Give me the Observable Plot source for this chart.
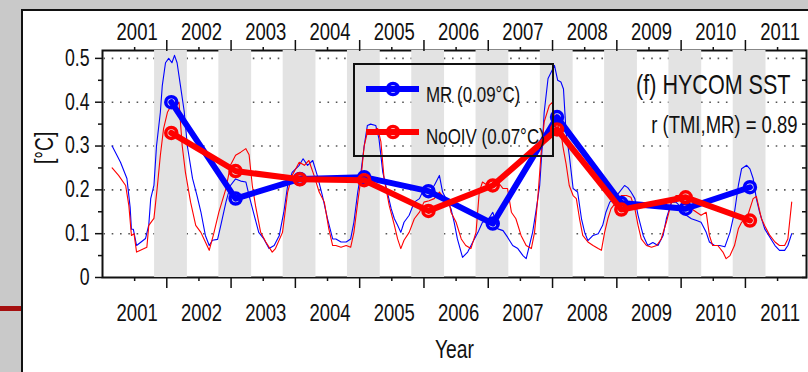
<!DOCTYPE html>
<html>
<head>
<meta charset="utf-8">
<script src="https://cdn.jsdelivr.net/npm/d3@7"></script>
<script src="https://cdn.jsdelivr.net/npm/@observablehq/plot@0.6"></script>
<style>
  html, body { margin: 0; padding: 0; }
  body { width: 808px; height: 372px; overflow: hidden; position: relative; background: #c9c9c9; }
  #panel { position: absolute; left: 21px; top: 9px; width: 787px; height: 363px; box-sizing: border-box; background: #fff; border-left: 2px solid #111; border-top: 2px solid #111; }
  #redbar { position: absolute; left: 0; top: 306px; width: 21px; height: 5px; background: #a50f0f; }
  #chart { position: absolute; left: 0; top: 0; }
</style>
</head>
<body>
<div id="panel"></div>
<div id="redbar"></div>
<div id="chart"></div>
<script>
// ---------- data ----------
const labelYears = [2001, 2002, 2003, 2004, 2005, 2006, 2007, 2008, 2009, 2010, 2011];
const midYearTicks = [2001.5, 2002.5, 2003.5, 2004.5, 2005.5, 2006.5, 2007.5, 2008.5, 2009.5, 2010.5];
const yMajor = [0, 0.1, 0.2, 0.3, 0.4, 0.5];
const yMinor = [0.05, 0.15, 0.25, 0.35, 0.45];

// shaded season of each year (fraction of year) and its centre
const seasonYears = [2001, 2002, 2003, 2004, 2005, 2006, 2007, 2008, 2009, 2010];
const seasonStart = 0.31;
const seasonEnd = 0.82;
const seasonCenter = 0.57;

// seasonal means (thick lines with circles)
const mrSeason = [0.40, 0.18, 0.225, 0.229, 0.197, 0.123, 0.366, 0.17, 0.157, 0.206];
const noivSeason = [0.33, 0.243, 0.224, 0.222, 0.152, 0.21, 0.338, 0.155, 0.183, 0.13];

// thin running series [year, value]
const mrSeries = [
  [2000.65,0.30],[2000.78,0.263],[2000.88,0.226],[2000.93,0.16],[2000.95,0.11],[2000.98,0.11],[2001.03,0.073],[2001.10,0.081],
  [2001.17,0.089],[2001.22,0.12],[2001.25,0.18],[2001.30,0.21],[2001.34,0.30],[2001.40,0.377],[2001.43,0.438],[2001.48,0.49],
  [2001.53,0.50],[2001.58,0.49],[2001.62,0.507],[2001.66,0.49],[2001.71,0.44],[2001.77,0.38],[2001.82,0.30],[2001.90,0.226],
  [2001.97,0.187],[2002.03,0.15],[2002.10,0.096],[2002.16,0.073],[2002.21,0.085],[2002.29,0.087],[2002.34,0.119],[2002.42,0.172],
  [2002.49,0.21],[2002.57,0.225],[2002.65,0.22],[2002.73,0.218],[2002.78,0.187],[2002.86,0.142],[2002.93,0.103],[2003.01,0.088],
  [2003.09,0.066],[2003.17,0.073],[2003.25,0.096],[2003.32,0.149],[2003.38,0.21],[2003.45,0.24],[2003.56,0.256],[2003.62,0.271],
  [2003.69,0.256],[2003.77,0.267],[2003.84,0.233],[2003.92,0.187],[2004.00,0.134],[2004.08,0.088],[2004.13,0.088],[2004.21,0.081],
  [2004.29,0.081],[2004.36,0.088],[2004.41,0.126],[2004.47,0.195],[2004.52,0.24],[2004.57,0.30],[2004.62,0.347],[2004.67,0.35],
  [2004.75,0.347],[2004.80,0.317],[2004.86,0.24],[2004.93,0.195],[2004.99,0.157],[2005.04,0.134],[2005.09,0.119],[2005.14,0.103],
  [2005.19,0.126],[2005.27,0.142],[2005.35,0.172],[2005.43,0.18],[2005.50,0.203],[2005.58,0.195],[2005.66,0.21],[2005.74,0.233],
  [2005.79,0.195],[2005.87,0.172],[2005.92,0.157],[2005.97,0.126],[2006.02,0.088],[2006.10,0.046],[2006.18,0.058],[2006.26,0.081],
  [2006.34,0.103],[2006.41,0.126],[2006.49,0.13],[2006.57,0.149],[2006.65,0.111],[2006.73,0.107],[2006.80,0.092],[2006.88,0.073],
  [2006.96,0.066],[2007.04,0.05],[2007.09,0.043],[2007.14,0.073],[2007.19,0.103],[2007.24,0.149],[2007.30,0.21],[2007.34,0.30],
  [2007.37,0.377],[2007.43,0.454],[2007.48,0.469],[2007.53,0.484],[2007.58,0.45],[2007.63,0.446],[2007.67,0.43],[2007.71,0.332],
  [2007.76,0.279],[2007.82,0.203],[2007.89,0.195],[2007.95,0.134],[2008.00,0.103],[2008.05,0.084],[2008.13,0.096],[2008.21,0.10],
  [2008.28,0.119],[2008.33,0.149],[2008.39,0.172],[2008.46,0.18],[2008.54,0.195],[2008.62,0.21],[2008.67,0.205],[2008.72,0.195],
  [2008.78,0.18],[2008.83,0.142],[2008.91,0.096],[2008.98,0.073],[2009.06,0.08],[2009.14,0.073],[2009.22,0.096],[2009.27,0.134],
  [2009.35,0.172],[2009.42,0.172],[2009.50,0.16],[2009.58,0.142],[2009.66,0.134],[2009.74,0.13],[2009.81,0.126],[2009.89,0.103],
  [2009.94,0.081],[2010.02,0.073],[2010.10,0.073],[2010.18,0.07],[2010.26,0.103],[2010.33,0.149],[2010.39,0.21],[2010.44,0.248],
  [2010.52,0.256],[2010.57,0.248],[2010.62,0.226],[2010.67,0.18],[2010.72,0.149],[2010.80,0.111],[2010.88,0.092],[2010.96,0.073],
  [2011.03,0.062],[2011.11,0.062],[2011.16,0.073],[2011.22,0.10]
];
const noivSeries = [
  [2000.65,0.25],[2000.75,0.233],[2000.86,0.21],[2000.91,0.164],[2000.95,0.096],[2000.99,0.10],[2001.03,0.058],[2001.09,0.062],
  [2001.19,0.069],[2001.22,0.119],[2001.30,0.135],[2001.35,0.203],[2001.40,0.279],[2001.45,0.34],[2001.51,0.377],[2001.56,0.39],
  [2001.62,0.39],[2001.69,0.40],[2001.74,0.30],[2001.79,0.24],[2001.87,0.172],[2001.95,0.119],[2002.03,0.103],[2002.10,0.081],
  [2002.16,0.062],[2002.23,0.10],[2002.31,0.149],[2002.42,0.203],[2002.49,0.256],[2002.57,0.279],[2002.65,0.286],[2002.73,0.294],
  [2002.78,0.28],[2002.83,0.21],[2002.88,0.164],[2002.96,0.103],[2003.04,0.081],[2003.14,0.058],[2003.19,0.066],[2003.30,0.103],
  [2003.38,0.195],[2003.45,0.233],[2003.56,0.263],[2003.64,0.256],[2003.71,0.267],[2003.79,0.233],[2003.87,0.195],[2003.95,0.172],
  [2004.02,0.111],[2004.08,0.073],[2004.13,0.073],[2004.21,0.069],[2004.29,0.073],[2004.36,0.069],[2004.41,0.103],[2004.47,0.172],
  [2004.52,0.226],[2004.57,0.30],[2004.62,0.332],[2004.70,0.336],[2004.78,0.34],[2004.83,0.31],[2004.88,0.226],[2004.96,0.164],
  [2005.04,0.119],[2005.09,0.088],[2005.14,0.066],[2005.19,0.085],[2005.27,0.103],[2005.35,0.134],[2005.43,0.149],[2005.50,0.172],
  [2005.58,0.175],[2005.66,0.18],[2005.74,0.195],[2005.82,0.18],[2005.89,0.175],[2005.92,0.149],[2006.00,0.126],[2006.08,0.088],
  [2006.15,0.073],[2006.23,0.066],[2006.31,0.103],[2006.36,0.195],[2006.41,0.218],[2006.49,0.21],[2006.57,0.21],[2006.65,0.218],
  [2006.73,0.203],[2006.80,0.203],[2006.86,0.149],[2006.93,0.134],[2007.01,0.096],[2007.09,0.073],[2007.17,0.066],[2007.22,0.103],
  [2007.27,0.18],[2007.32,0.279],[2007.37,0.355],[2007.45,0.393],[2007.50,0.40],[2007.56,0.33],[2007.61,0.355],[2007.66,0.30],
  [2007.71,0.26],[2007.76,0.21],[2007.82,0.187],[2007.87,0.18],[2007.92,0.134],[2007.97,0.096],[2008.05,0.081],[2008.13,0.073],
  [2008.21,0.066],[2008.26,0.062],[2008.31,0.103],[2008.36,0.134],[2008.41,0.157],[2008.49,0.172],[2008.57,0.187],[2008.65,0.187],
  [2008.72,0.183],[2008.78,0.157],[2008.83,0.119],[2008.88,0.088],[2008.96,0.073],[2009.04,0.069],[2009.12,0.073],[2009.19,0.088],
  [2009.27,0.126],[2009.35,0.172],[2009.42,0.187],[2009.50,0.187],[2009.58,0.164],[2009.66,0.157],[2009.74,0.149],[2009.81,0.142],
  [2009.89,0.149],[2009.94,0.096],[2009.99,0.073],[2010.07,0.073],[2010.15,0.058],[2010.20,0.043],[2010.26,0.05],[2010.33,0.073],
  [2010.39,0.111],[2010.44,0.126],[2010.52,0.134],[2010.62,0.18],[2010.67,0.185],[2010.75,0.134],[2010.80,0.118],[2010.88,0.096],
  [2010.96,0.081],[2011.03,0.073],[2011.11,0.073],[2011.16,0.088],[2011.22,0.172]
];

// texts
const seriesNames = ["MR (0.09°C)", "NoOIV (0.07°C)"];
const seriesColors = ["#0000ff", "#ff0000"];
const titleText = "(f) HYCOM SST";
const corrText = "r (TMI,MR) = 0.89";
const xLabel = "Year";
const yLabel = "[°C]";

// ---------- build ----------
const font = "'Liberation Sans', Arial, Helvetica, sans-serif";
const mrSeasonData = seasonYears.map((yr, i) => ({t: yr + seasonCenter, v: mrSeason[i]}));
const noivSeasonData = seasonYears.map((yr, i) => ({t: yr + seasonCenter, v: noivSeason[i]}));

function legendMark() {
  const g = d3.create("svg:g");
  g.append("rect").attr("x", 354).attr("y", 64).attr("width", 199).attr("height", 92)
    .attr("fill", "none").attr("stroke", "#111").attr("stroke-width", 2);
  const rows = [89, 132];
  const baselines = [102, 144];
  seriesNames.forEach((name, i) => {
    const cy = rows[i];
    g.append("line").attr("x1", 366).attr("x2", 419).attr("y1", cy).attr("y2", cy)
      .attr("stroke", seriesColors[i]).attr("stroke-width", 6);
    g.append("circle").attr("cx", 393).attr("cy", cy).attr("r", 5.5)
      .attr("fill", "none").attr("stroke", seriesColors[i]).attr("stroke-width", 3.5);
    g.append("text").attr("x", 426).attr("y", baselines[i]).attr("text-anchor", "start")
      .attr("font-size", 22).attr("fill", "#111").text(name);
  });
  return g.node();
}

const chart = Plot.plot({
  width: 808,
  height: 372,
  marginLeft: 102,
  marginRight: 2,
  marginTop: 50,
  marginBottom: 95,
  style: {background: "transparent", fontFamily: font, fontSize: "24px", color: "#111", overflow: "visible"},
  x: {domain: [2000.5, 2011.45]},
  y: {domain: [0, 0.518]},
  marks: [
    Plot.frame({stroke: "#111", strokeWidth: 2}),
    Plot.gridY({ticks: yMajor.filter(d => d > 0), stroke: "#555", strokeOpacity: 1, strokeWidth: 1.6, strokeDasharray: "1.6,6.7", strokeDashoffset: -1.4}),
    Plot.rect(seasonYears, {x1: d => d + seasonStart, x2: d => d + seasonEnd, fill: "#e3e3e3"}),
    Plot.line(mrSeries, {x: d => d[0], y: d => d[1], stroke: seriesColors[0], strokeWidth: 1.1}),
    Plot.line(noivSeries, {x: d => d[0], y: d => d[1], stroke: seriesColors[1], strokeWidth: 1.1}),
    Plot.line(mrSeasonData, {x: "t", y: "v", stroke: seriesColors[0], strokeWidth: 6}),
    Plot.dot(mrSeasonData, {x: "t", y: "v", r: 5.5, stroke: seriesColors[0], strokeWidth: 3.5, fill: "none"}),
    Plot.line(noivSeasonData, {x: "t", y: "v", stroke: seriesColors[1], strokeWidth: 6}),
    Plot.dot(noivSeasonData, {x: "t", y: "v", r: 5.5, stroke: seriesColors[1], strokeWidth: 3.5, fill: "none"}),
    // bottom axis
    Plot.axisX({anchor: "bottom", ticks: labelYears, tickSize: 4, strokeWidth: 1.5, tickFormat: () => "", label: null}),
    Plot.axisX({anchor: "bottom", ticks: midYearTicks, tickSize: 11, strokeWidth: 1.5, tickFormat: () => "", label: null}),
    Plot.axisX({anchor: "bottom", ticks: labelYears, tickSize: 0, tickPadding: 26, dx: 2.5, tickFormat: d => String(d), label: null, fontSize: 24}),
    // top axis
    Plot.axisX({anchor: "top", ticks: labelYears, tickSize: 4, strokeWidth: 1.5, tickFormat: () => "", label: null}),
    Plot.axisX({anchor: "top", ticks: midYearTicks, tickSize: 11, strokeWidth: 1.5, tickFormat: () => "", label: null}),
    Plot.axisX({anchor: "top", ticks: labelYears, tickSize: 0, tickPadding: 11, dx: 2.5, tickFormat: d => String(d), label: null, fontSize: 24}),
    // left axis
    Plot.axisY({anchor: "left", ticks: yMajor, tickSize: 7, tickPadding: 6, strokeWidth: 1.5, tickFormat: d => d === 0 ? "0" : d.toFixed(1), label: null, fontSize: 23}),
    Plot.axisY({anchor: "left", ticks: yMinor, tickSize: 4, strokeWidth: 1.5, tickFormat: () => "", label: null}),
    // right axis (inward ticks)
    Plot.axisY({anchor: "right", ticks: yMajor.concat(yMinor), tickSize: 5, dx: -5, strokeWidth: 1.5, tickFormat: () => "", label: null}),
    // labels
    Plot.text([yLabel], {text: d => d, frameAnchor: "left", dx: -58, rotate: -90, fontSize: 25, fill: "#111"}),
    Plot.text([xLabel], {text: d => d, frameAnchor: "bottom", dy: 80, lineAnchor: "bottom", fontSize: 25, fill: "#111"}),
    Plot.text([titleText], {text: d => d, frameAnchor: "top-right", dx: -16, dy: 43, lineAnchor: "bottom", textAnchor: "end", fontSize: 28, fill: "#111"}),
    Plot.text([corrText], {text: d => d, frameAnchor: "top-right", dx: -9, dy: 82, lineAnchor: "bottom", textAnchor: "end", fontSize: 24, fill: "#111"}),
    legendMark
  ]
});

document.getElementById("chart").append(chart);

// condensed (narrow) lettering as in the original figure: squeeze each text horizontally about its anchor
const squeeze = 0.77;
chart.querySelectorAll("text").forEach(t => {
  if (!t.textContent) return;
  const ax = parseFloat(t.getAttribute("x")) || 0;
  const prev = t.getAttribute("transform") || "";
  t.setAttribute("transform", `${prev} translate(${ax},0) scale(${squeeze},1) translate(${-ax},0)`);
});
</script>
</body>
</html>
